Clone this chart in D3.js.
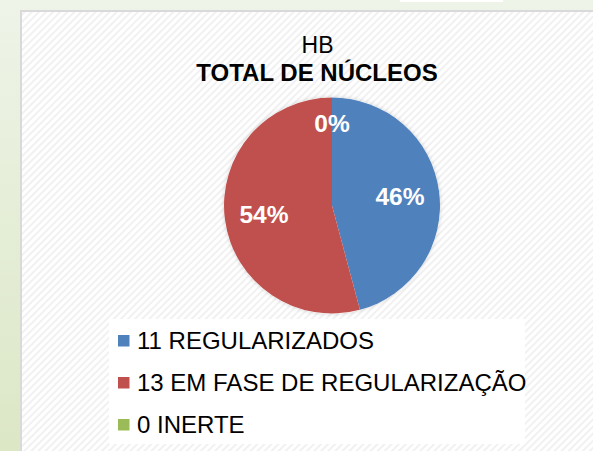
<!DOCTYPE html>
<html><head><meta charset="utf-8">
<script src="https://cdn.jsdelivr.net/npm/d3@7"></script>
<style>html,body{margin:0;padding:0;background:#fff;}svg{display:block;}</style>
</head><body>
<script>
const categories = ["REGULARIZADOS", "EM FASE DE REGULARIZAÇÃO", "INERTE"];
const counts = [11, 13, 0];
const colors = ["#4F81BD", "#C0504D", "#9BBB59"];
const titleLines = ["HB", "TOTAL DE NÚCLEOS"];

const W = 593, H = 451;
const FONT = "Liberation Sans, Arial, sans-serif";
const svg = d3.select("body").append("svg").attr("width", W).attr("height", H);
const defs = svg.append("defs");

const bgGrad = defs.append("linearGradient").attr("id","bg").attr("x1",0).attr("y1",0).attr("x2",0).attr("y2",1);
bgGrad.append("stop").attr("offset","0%").attr("stop-color","#eef4e8");
bgGrad.append("stop").attr("offset","100%").attr("stop-color","#dce7c6");

const pat = defs.append("pattern").attr("id","hatch").attr("patternUnits","userSpaceOnUse")
  .attr("width",5).attr("height",5).attr("patternTransform","rotate(45)");
pat.append("rect").attr("width",5).attr("height",5).attr("fill","#ffffff");
pat.append("rect").attr("x",0).attr("width",2).attr("height",5).attr("fill","#f1f1f1");

const sh = defs.append("filter").attr("id","shadow").attr("x","-20%").attr("y","-20%").attr("width","140%").attr("height","140%");
sh.append("feDropShadow").attr("dx",0).attr("dy",0).attr("stdDeviation",2).attr("flood-color","#000").attr("flood-opacity",0.18);

// page background
svg.append("rect").attr("width",W).attr("height",H).attr("fill","url(#bg)");
svg.append("rect").attr("x",400).attr("y",0).attr("width",103).attr("height",2).attr("fill","#ffffff");
// chart area
svg.append("rect").attr("x",20).attr("y",10).attr("width",W-20).attr("height",H-10).attr("fill","#d9d9d9");
svg.append("rect").attr("x",22).attr("y",12).attr("width",W-22).attr("height",H-12).attr("fill","url(#hatch)");

// title
svg.append("text").attr("x",317.5).attr("y",53.3).attr("text-anchor","middle")
  .attr("font-family",FONT).attr("font-size",23).attr("fill","#000").text(titleLines[0]);
svg.append("text").attr("x",317).attr("y",80.5).attr("text-anchor","middle")
  .attr("font-family",FONT).attr("font-size",24).attr("font-weight","bold").attr("fill","#000").text(titleLines[1]);

// pie
const cx = 332, cy = 205.5, r = 108;
const total = d3.sum(counts);
const pie = d3.pie().sort(null).value(d => d)(counts);
const arc = d3.arc().innerRadius(0).outerRadius(r);
const g = svg.append("g").attr("transform",`translate(${cx},${cy})`);
g.append("circle").attr("r",r).attr("fill","#fff").attr("filter","url(#shadow)");
g.selectAll("path").data(pie).join("path").attr("d",arc).attr("fill",(d,i)=>colors[i]);

const labelArc = d3.arc().innerRadius(r*0.635).outerRadius(r*0.635);
g.selectAll("text.lbl").data(pie).join("text").attr("class","lbl")
  .attr("transform", (d,i) => {
    let [x,y] = labelArc.centroid(d);
    if (d.value === 0) { x = 0; y = -r*0.765; }
    return `translate(${x},${y})`;
  })
  .attr("text-anchor","middle").attr("dy","0.36em")
  .attr("font-family",FONT).attr("font-size",24.5).attr("font-weight","bold")
  .attr("fill","#fff").text(d => Math.round(100*d.value/total) + "%");

// legend
svg.append("rect").attr("x",109).attr("y",319).attr("width",416).attr("height",125).attr("fill","#ffffff");
const ly = d3.scalePoint().domain(d3.range(categories.length)).range([349, 433]);
const lg = svg.append("g");
categories.forEach((c,i) => {
  lg.append("rect").attr("x",118).attr("y",ly(i)-14).attr("width",11.5).attr("height",11.5).attr("fill",colors[i]);
  lg.append("text").attr("x",137).attr("y",ly(i))
    .attr("font-family",FONT).attr("font-size",24).attr("fill","#000")
    .text(counts[i] + " " + c);
});
</script>
</body></html>
